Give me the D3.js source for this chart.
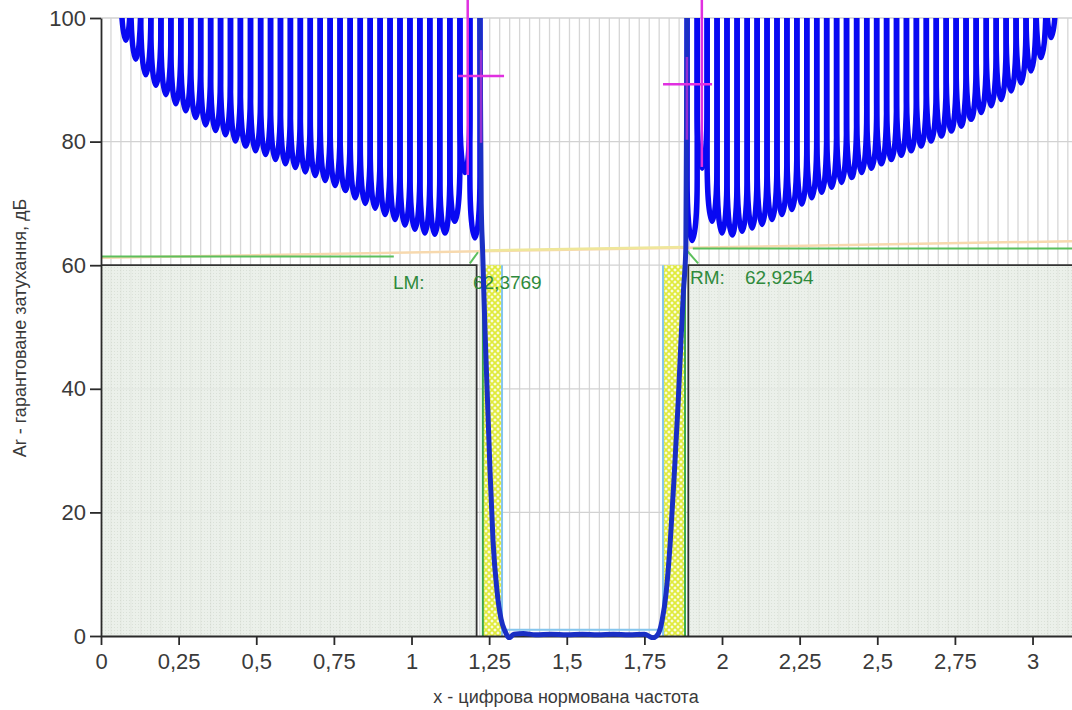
<!DOCTYPE html>
<html>
<head>
<meta charset="utf-8">
<script src="https://cdn.jsdelivr.net/npm/d3@7"></script>
<style>
  body { margin: 0; background: #fff; }
  svg { display: block; }
  text { font-family: "Liberation Sans Narrow", "Liberation Sans", Arial, sans-serif; fill: #3a3a3a; }
</style>
</head>
<body>
<svg id="chart"></svg>
<script>
// axis ticks
const xTicks = [0, 0.25, 0.5, 0.75, 1, 1.25, 1.5, 1.75, 2, 2.25, 2.5, 2.75, 3];
const yTicks = [0, 20, 40, 60, 80, 100];
const gridStep = 0.0321;

// left stopband lobes: centre frequency and minimum attenuation (dB)
const leftLobeX = [0.080, 0.112, 0.144, 0.177, 0.209, 0.241, 0.273, 0.305, 0.337, 0.369,
  0.401, 0.433, 0.465, 0.498, 0.530, 0.562, 0.594, 0.626, 0.658, 0.690,
  0.722, 0.754, 0.786, 0.819, 0.851, 0.883, 0.915, 0.947, 0.979, 1.011,
  1.043, 1.075, 1.107, 1.140, 1.172, 1.204];
const leftLobeMin = [96.4, 93.3, 90.8, 89.1, 87.6, 86.1, 85.0, 83.9, 82.7, 81.8,
  81.1, 80.1, 79.3, 78.5, 77.9, 77.1, 76.4, 75.8, 75.1, 74.5,
  73.7, 72.9, 72.1, 70.9, 70.0, 69.2, 68.2, 67.4, 66.5, 65.8,
  65.2, 65.0, 65.2, 67.1, 75.0, 64.4];

// right stopband lobes
const rightLobeX = [1.904, 1.936, 1.968, 2.000, 2.032, 2.065, 2.097, 2.129, 2.161, 2.193,
  2.225, 2.257, 2.289, 2.321, 2.353, 2.385, 2.417, 2.450, 2.482, 2.514,
  2.546, 2.578, 2.610, 2.642, 2.674, 2.706, 2.738, 2.770, 2.802, 2.835,
  2.867, 2.899, 2.931, 2.963, 2.995, 3.027, 3.060];
const rightLobeMin = [64.0, 75.7, 67.1, 65.2, 64.9, 65.5, 66.0, 66.6, 67.4, 68.2,
  69.0, 69.9, 70.9, 71.8, 72.6, 73.4, 74.2, 75.0, 75.7, 76.4,
  77.1, 77.8, 78.5, 79.3, 80.1, 80.9, 81.7, 82.5, 83.6, 84.7,
  85.8, 86.8, 88.2, 89.5, 91.4, 93.6, 96.8];

// transition bands + passband
const bandX = [1.2205, 1.2245, 1.2290, 1.2367, 1.2448, 1.2528, 1.2625, 1.2754, 1.2882, 1.3011,
  1.314, 1.330, 1.36, 1.40, 1.45, 1.50, 1.55, 1.60, 1.65, 1.70,
  1.75, 1.778, 1.794, 1.807, 1.820, 1.833, 1.846, 1.859, 1.868, 1.876,
  1.8835, 1.8875];
const bandA = [100, 70, 62.4, 49.4, 38.1, 26.7, 15.4, 7.3, 2.8, 0.8,
  -0.3, 0.3, 0.4, 0.2, 0.3, 0.2, 0.3, 0.2, 0.3, 0.2,
  0.3, -0.3, 0.3, 2.5, 7, 15, 26, 38, 48, 56,
  62.9, 100];

// spec regions
const stopLevel = 60;
const stopLeftEnd = 1.2097, stopRightStart = 1.8914;
const hatchLeft = [1.2297, 1.2915], hatchRight = [1.810, 1.8809];
const passTol = 1.0;

// reference lines
const peachX = [0, 3.1416], peachA = [61.2, 63.9];
const lmrmX = [1.2287, 1.8841], lmrmA = [62.38, 62.93];
const greenLeftX = [0, 0.943], greenLeftA = 61.4;
const greenRightX = [1.906, 3.1416], greenRightA = 62.7;
const greenTickX = [[1.188, 1.214], [1.881, 1.923]], greenTickA = [[60.3, 62.1], [62.7, 60.3]];

// magenta markers
const markX = [1.181, 1.935], markA = [90.6, 89.3], markLow = [74.6, 75.9];
const markLeft = [1.150, 1.810], markRight = [1.298, 1.968];
const markEdgeX = [1.224, 1.887], markEdgeTop = [94.8, 93.7], markEdgeLow = [79.8, 80.3];

// labels
const labels = [
  { x: 0.940, a: 56.2, t: "LM:" }, { x: 1.198, a: 56.2, t: "62,3769" },
  { x: 1.897, a: 57.0, t: "RM:" }, { x: 2.074, a: 57.0, t: "62,9254" }
];

const width = 1072, height = 710;
const x = d3.scaleLinear().domain([0, 3.1416]).range([101, 1076.5]);
const y = d3.scaleLinear().domain([0, 100]).range([636, 18]);

const svg = d3.select("#chart").attr("width", width).attr("height", height);
const defs = svg.append("defs");

const dots = defs.append("pattern").attr("id", "dots")
  .attr("width", 3).attr("height", 3).attr("patternUnits", "userSpaceOnUse");
dots.append("rect").attr("width", 3).attr("height", 3).attr("fill", "#e7ede5");
dots.append("rect").attr("width", 1).attr("height", 1).attr("fill", "#d2dacf");

const hatch = defs.append("pattern").attr("id", "hatch")
  .attr("width", 6).attr("height", 6).attr("patternUnits", "userSpaceOnUse");
hatch.append("rect").attr("width", 6).attr("height", 6).attr("fill", "#fafde0");
hatch.append("path").attr("d", "M0,0L6,6M6,0L0,6M-1,5L1,7M5,-1L7,1")
  .attr("stroke", "#e0ea3c").attr("stroke-width", 1.7);

defs.append("clipPath").attr("id", "plot").append("rect")
  .attr("x", 101).attr("y", y(100)).attr("width", width - 101).attr("height", y(0) - y(100) + 4);

// grid
const gridX = d3.range(gridStep, 3.1416, gridStep);
svg.append("g").selectAll("line").data(gridX).join("line")
  .attr("x1", d => x(d)).attr("x2", d => x(d))
  .attr("y1", y(100)).attr("y2", y(0))
  .attr("stroke", "#d6d6d6").attr("stroke-width", 1.3);
svg.append("g").selectAll("line").data(yTicks.filter(d => d > 0)).join("line")
  .attr("x1", x(0)).attr("x2", width)
  .attr("y1", d => y(d)).attr("y2", d => y(d))
  .attr("stroke", "#d2d2d2").attr("stroke-width", 1.3);

// stopband spec regions
const stops = [[0, stopLeftEnd], [stopRightStart, 3.1416]];
svg.append("g").selectAll("rect").data(stops).join("rect")
  .attr("x", d => x(d[0])).attr("width", d => x(d[1]) - x(d[0]))
  .attr("y", y(stopLevel)).attr("height", y(0) - y(stopLevel))
  .attr("fill", "url(#dots)").attr("opacity", 0.82);

// transition hatch
svg.append("g").selectAll("rect").data([hatchLeft, hatchRight]).join("rect")
  .attr("x", d => x(d[0])).attr("width", d => x(d[1]) - x(d[0]))
  .attr("y", y(stopLevel)).attr("height", y(0) - y(stopLevel))
  .attr("fill", "url(#hatch)");

// passband tolerance box
const lb = svg.append("g").attr("stroke", "#86c6ee").attr("stroke-width", 2).attr("fill", "none");
[hatchLeft[1], hatchRight[0]].forEach(v => {
  lb.append("line").attr("x1", x(v)).attr("x2", x(v)).attr("y1", y(stopLevel)).attr("y2", y(0));
});
lb.append("line").attr("x1", x(hatchLeft[1])).attr("x2", x(hatchRight[0]))
  .attr("y1", y(passTol)).attr("y2", y(passTol));

// peach and yellow reference lines
svg.append("line").attr("x1", x(peachX[0])).attr("x2", x(peachX[1]))
  .attr("y1", y(peachA[0])).attr("y2", y(peachA[1]))
  .attr("stroke", "#f7d9ae").attr("stroke-width", 2.5);
svg.append("line").attr("x1", x(lmrmX[0])).attr("x2", x(lmrmX[1]))
  .attr("y1", y(lmrmA[0])).attr("y2", y(lmrmA[1]))
  .attr("stroke", "#efe79a").attr("stroke-width", 2.5);

// green lines
const gg = svg.append("g").attr("stroke", "#5cbf5c").attr("stroke-width", 2);
gg.append("line").attr("x1", x(greenLeftX[0])).attr("x2", x(greenLeftX[1]))
  .attr("y1", y(greenLeftA)).attr("y2", y(greenLeftA));
gg.append("line").attr("x1", x(greenRightX[0])).attr("x2", x(greenRightX[1]))
  .attr("y1", y(greenRightA)).attr("y2", y(greenRightA));
greenTickX.forEach((g, i) => {
  gg.append("line").attr("x1", x(g[0])).attr("x2", x(g[1]))
    .attr("y1", y(greenTickA[i][0])).attr("y2", y(greenTickA[i][1]));
});
[hatchLeft[0], hatchRight[1]].forEach(v => {
  gg.append("line").attr("x1", x(v)).attr("x2", x(v)).attr("y1", y(stopLevel)).attr("y2", y(0))
    .attr("stroke", "#3aa84a");
});

// dark outline of stop regions
const outline = d3.line().x(d => x(d[0])).y(d => y(d[1]));
svg.append("path")
  .attr("d", outline([[0, stopLevel], [stopLeftEnd, stopLevel], [stopLeftEnd, 0]]))
  .attr("fill", "none").attr("stroke", "#333").attr("stroke-width", 1.8);
svg.append("path")
  .attr("d", outline([[stopRightStart, 0], [stopRightStart, stopLevel], [3.1416, stopLevel]]))
  .attr("fill", "none").attr("stroke", "#333").attr("stroke-width", 1.8);

// labels
svg.append("g").selectAll("text").data(labels).join("text")
  .attr("x", d => x(d.x)).attr("y", d => y(d.a))
  .attr("font-size", 19).style("fill", "#2f8a3c")
  .text(d => d.t);

// axes
const fmt = d => String(d).replace(".", ",");
const xAxis = svg.append("g").attr("transform", `translate(0,${y(0)})`)
  .call(d3.axisBottom(x).tickValues(xTicks).tickFormat(fmt).tickSize(9).tickPadding(8).tickSizeOuter(0));
const yAxis = svg.append("g").attr("transform", `translate(${x(0)},0)`)
  .call(d3.axisLeft(y).tickValues(yTicks).tickSize(11).tickPadding(4).tickSizeOuter(0));
[xAxis, yAxis].forEach(a => {
  a.select(".domain").attr("stroke", "#2a2a2a").attr("stroke-width", 1.8);
  a.selectAll(".tick line").attr("stroke", "#2a2a2a").attr("stroke-width", 1.8);
  a.selectAll(".tick text").attr("font-size", 22).attr("font-family", null).style("fill", "#3a3a3a");
});
xAxis.select(".domain").attr("d", `M${x(0)},0.5H${width}`);

// blue response: stopband lobes
function lobes(centers, mins, leftEdge, rightEdge) {
  return centers.map((c, i) => ({
    l: i > 0 ? (centers[i - 1] + c) / 2 : leftEdge,
    r: i < centers.length - 1 ? (c + centers[i + 1]) / 2 : rightEdge,
    m: mins[i]
  }));
}
const lobeData = lobes(leftLobeX, leftLobeMin, leftLobeX[0] - gridStep / 2, bandX[0])
  .concat(lobes(rightLobeX, rightLobeMin, bandX[bandX.length - 1], rightLobeX[rightLobeX.length - 1] + gridStep / 2));
const depth = y(0) - y(10);
const yTop = y(100) - 10;
const plot = svg.append("g").attr("clip-path", "url(#plot)");
plot.selectAll("path.lobe").data(lobeData).join("path")
  .attr("class", "lobe")
  .attr("d", d => {
    const xl = x(d.l), xr = x(d.r), rx = (xr - xl) / 2, yc = y(d.m) - depth;
    return `M${xl},${yTop}L${xl},${yc}A${rx},${depth} 0 0 0 ${xr},${yc}L${xr},${yTop}`;
  })
  .attr("fill", "none").attr("stroke", "#0808f2").attr("stroke-width", 5.5);

const band = d3.line().x((d, i) => x(bandX[i])).y(d => y(d)).curve(d3.curveMonotoneX);
plot.append("path").attr("d", band(bandA))
  .attr("fill", "none").attr("stroke", "#1a2fc4").attr("stroke-width", 5);

// magenta markers
const mg = svg.append("g").attr("stroke", "#e030e0").attr("stroke-width", 2.5);
markX.forEach((m, i) => {
  mg.append("line").attr("x1", x(m)).attr("x2", x(m)).attr("y1", 0).attr("y2", y(markLow[i]));
  mg.append("line").attr("x1", x(markLeft[i])).attr("x2", x(markRight[i]))
    .attr("y1", y(markA[i])).attr("y2", y(markA[i]));
  mg.append("line").attr("x1", x(markEdgeX[i])).attr("x2", x(markEdgeX[i]))
    .attr("y1", y(markEdgeTop[i])).attr("y2", y(markEdgeLow[i])).attr("stroke-opacity", 0.6);
});

// axis titles
svg.append("text").attr("x", 566).attr("y", 703).attr("text-anchor", "middle")
  .attr("font-size", 18).style("font-family", "'Liberation Sans', Arial, sans-serif")
  .text("x - цифрова нормована частота");
svg.append("text").attr("transform", "translate(26,328) rotate(-90)").attr("text-anchor", "middle")
  .attr("font-size", 18).style("font-family", "'Liberation Sans', Arial, sans-serif")
  .text("Ar - гарантоване затухання, дБ");
</script>
</body>
</html>
